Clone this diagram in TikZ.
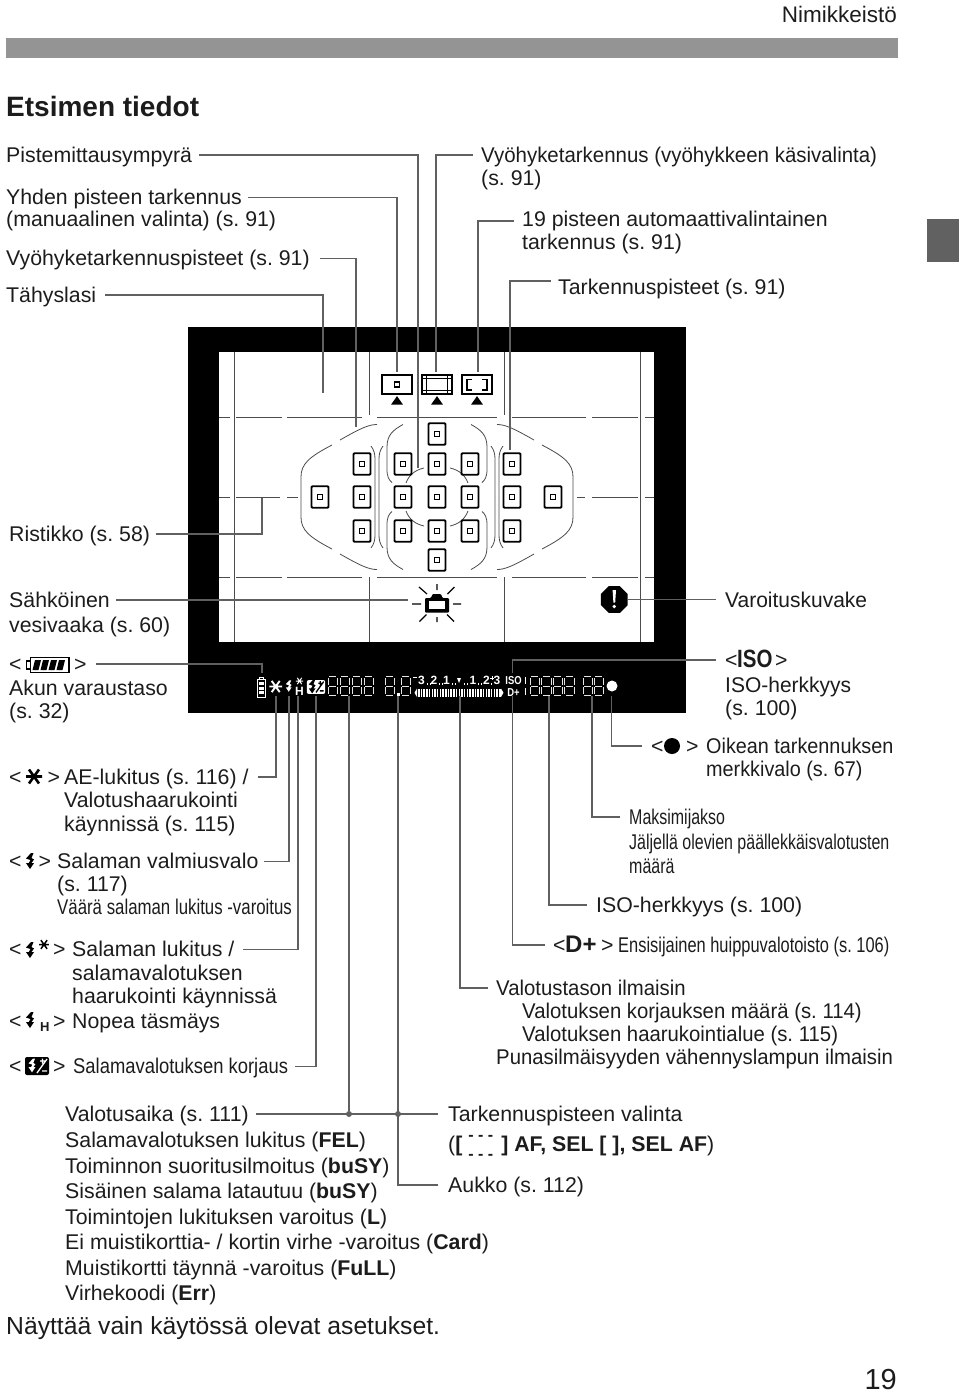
\documentclass[tikz,border=0pt]{standalone}
\usepackage{fontspec}
\setmainfont{Liberation Sans}
\newfontfamily\narrow[FakeStretch=.82]{Liberation Sans}
\usetikzlibrary{positioning,calc,shapes.geometric}
\frenchspacing

\definecolor{leadgray}{HTML}{606060}
\definecolor{inkblack}{HTML}{1C1C1C}

\tikzset{
  bolt/.pic={
    \fill (1,-8) -- (3.5,-8) -- (1.5,-3) -- (4,-1.5) -- (1.5,2) -- (4,2) -- (0,8)
      -- (-4,2) -- (-1.2,2) -- (.5,-1) -- (-4,-2.5) -- cycle;
  },
  aestar/.pic={
    \draw (-8,0) -- (8,0) (-5,-7) -- (5,7) (-5,7) -- (5,-7);
  },
  lcddigit/.pic={
    \draw[white!90!black,line width=1pt] (1.5,0) -- (8.5,0) (0,1.5) -- (0,8.5) (10,1.5) -- (10,8.5)
      (1.5,10) -- (8.5,10) (0,11.5) -- (0,18.5) (10,11.5) -- (10,18.5) (1.5,20) -- (8.5,20);
  },
  pics/febox/.style 2 args={code={
    \fill[#1,rounded corners=2pt] (-12,-9) rectangle (12,9);
    \pic[color=#2,scale=.85] at (-5,-.5) {bolt};
    \draw[#2,line width=1.3pt] (0,7) -- (10,-7) (3,-5) -- (8,-5) (5.5,-7.5) -- (5.5,-2.5) (5,5) -- (10,5);
  }},
}
\newcommand{\afbrackets}{\textbf{[}\hspace{6pt}\rlap{\raisebox{11pt}{\bfseries\fontsize{16}{16}\selectfont- - -}}\raisebox{-8pt}{\bfseries\fontsize{16}{16}\selectfont- - -}\hspace{8pt}\textbf{]}}

\begin{document}
\begin{tikzpicture}[
  x=1pt,y=-1pt,
  txt/.style={
    anchor=west,
    inner sep=0pt,
    text height=17pt,
    text depth=3pt,
    text=inkblack,
    font=\fontsize{21.3}{23}\selectfont,
  },
  slim/.style={
    txt,
    font={\fontspec{Liberation Sans}[FakeStretch=#1]\fontsize{21.3}{23}\selectfont},
  },
  lead/.style={
    draw=leadgray,
    line width=1.8pt,
    line join=miter,
  },
  gridline/.style={
    draw=black!70,
    line width=.9pt,
  },
  afbox/.style={
    draw=black,
    line width=1.9pt,
    rounded corners=1pt,
    minimum width=17pt,
    minimum height=21.5pt,
    inner sep=0pt,
  },
  afcore/.style={
    draw=black,
    line width=1.6pt,
    minimum size=5pt,
    inner sep=0pt,
  },
  lcdtext/.style={
    inner sep=0pt,
    text=white,
    font=\narrow\bfseries\fontsize{11.5}{12}\selectfont,
  },
  leaddot/.style={
    circle,
    fill=leadgray,
    inner sep=0pt,
    minimum size=6pt,
  },
  modeicon/.style={
    draw=black,
    line width=1.8pt,
    minimum width=30pt,
    minimum height=19pt,
    inner sep=0pt,
  },
  ]
  \useasboundingbox (0,0) rectangle (960,1393);

  % page furniture
  \fill[black!42] (6,38) rectangle (898,58);
  \fill[black!62] (927,219) rectangle (959,262);
  \node[txt,anchor=east,font=\fontsize{22.5}{24}\selectfont] (section) at (897,15) {Nimikkeistö};
  \node[txt,font=\bfseries\fontsize{28}{30}\selectfont] (title) at (6,109) {Etsimen tiedot};
  \node[txt,font=\fontsize{24.7}{26}\selectfont] (note) at (6,1327) {Näyttää vain käytössä olevat asetukset.};
  \node[txt,anchor=east,font=\fontsize{29}{30}\selectfont] (pageno) at (897,1382) {19};

  % viewfinder frame
  \fill[black] (187.5,327) rectangle (686,713);
  \fill[white] (219,352) rectangle (654,642);

  % grid of the screen
  \foreach \gx in {234,640}
    \draw[gridline] (\gx,352) -- (\gx,642);
  \foreach \gx in {369,504}
    \draw[gridline] (\gx,352) -- (\gx,415) (\gx,577) -- (\gx,642);
  \foreach \gy in {417,577}
    \draw[gridline] (219,\gy) -- (230,\gy) (236,\gy) -- (282,\gy) (287,\gy) -- (362,\gy)
      (377,\gy) -- (497,\gy) (512,\gy) -- (586,\gy) (592,\gy) -- (638,\gy) (645,\gy) -- (654,\gy);
  \draw[gridline] (219,497) -- (230,497) (236,497) -- (280,497) (287,497) -- (298,497)
    (577,497) -- (585,497) (592,497) -- (638,497) (645,497) -- (654,497);

  % zone marks, one quarter mirrored
  \foreach \sx in {1,-1}
    \foreach \sy in {1,-1} {
      \begin{scope}[shift={(437,497)},xscale=\sx,yscale=\sy]
        \draw[gridline,line width=.8pt]
          (-60,-72.5) .. controls (-68,-72.5) and (-76,-69) .. (-97,-57)
          (-105,-52) .. controls (-128,-40) and (-136,-33) .. (-136,-20) -- (-136,0)
          (-34,-72.5) .. controls (-44,-67) and (-50,-62) .. (-50,-50) -- (-50,-28)
            .. controls (-50,-20) and (-48,-17) .. (-45,-14.5)
          (-66,-51) .. controls (-63,-47) and (-62,-43) .. (-62,-38) -- (-62,0)
          (-54,-51) .. controls (-57,-47) and (-58,-43) .. (-58,-38) -- (-58,0)
          (-31,-14) .. controls (-28,-22) and (-22,-27) .. (-13,-29);
      \end{scope}
    }

  % AF points
  \foreach \px/\py [count=\n] in {
    437/434,
    362/464,403/464,437/464,470/464,512/464,
    320/497,362/497,403/497,437/497,470/497,512/497,553/497,
    362/531,403/531,437/531,470/531,512/531,
    437/560} {
    \node[afbox] (af\n) at (\px,\py) {};
    \node[afcore] (afc\n) at (af\n) {};
  }

  % AF mode icons
  \node[modeicon] (spot) at (397,384.5) {};
  \node[afcore] (spot-c) at (spot) {};
  \node[modeicon] (film) at (437,384.5) {};
  \draw[line width=1pt] (film.north west) ++(5,0) -- ++(0,19) (film.north east) ++(-5,0) -- ++(0,19)
    (film.north west) ++(0,4) -- ++(30,0) (film.south west) ++(0,-4) -- ++(30,0);
  \node[modeicon] (zone) at (477,384.5) {};
  \draw[line width=1.5pt] (472,379.5) -- (467,379.5) -- (467,390) -- (472,390)
    (482,379.5) -- (487,379.5) -- (487,390) -- (482,390);
  \foreach \tx/\tn in {397/spot,437/film,477/zone}
    \node[fill=black,isosceles triangle,isosceles triangle apex angle=70,shape border rotate=90,
      inner sep=0pt,minimum height=8.5pt,minimum width=11pt] (tri-\tn) at (\tx,401.5) {};

  % electronic level camera
  \draw[line width=1.2pt] (437,584) -- (437,590) (437,617) -- (437,622)
    (412,604) -- (421,604) (453,604) -- (461,604)
    (419,587) -- (427,594) (454.5,587) -- (447.5,594)
    (419.5,621.5) -- (426.5,614.5) (447,614.5) -- (454,621.5);
  \fill[rounded corners=1pt] (425,598) -- (431,598) -- (432.5,594) -- (441,594) -- (442.5,598)
    -- (449,598) -- (449,612.5) -- (425,612.5) -- cycle;
  \fill[white] (429,601) rectangle (445,609);
  \coordinate (level-c) at (408,600);

  % warning icon
  \node[regular polygon,regular polygon sides=8,fill=black,inner sep=0pt,minimum size=29pt] (warn) at (614.3,599.5) {};
  \fill[white] (612.6,590) -- (616,590) -- (615.2,602.5) -- (613.4,602.5) -- cycle;
  \fill[white] (614.3,606.5) circle (1.9pt);

  % LCD panel
  \draw[white,line width=.9pt] (257.5,679) rectangle (265,697) (259.5,679) -- (259.5,677) -- (263,677) -- (263,679);
  \foreach \by in {682,686.5,691}
    \fill[white] (259,\by) rectangle (263.5,\by+3);
  \pic[color=white,line width=1.9pt,scale=.8] at (275.7,686.5) {aestar};
  \pic[color=white,scale=.72] at (288.7,686) {bolt};
  \pic[color=white,line width=1pt,scale=.45] at (299.5,681) {aestar};
  \node[lcdtext,font=\bfseries\fontsize{12}{12}\selectfont] (lcd-h) at (299.5,691.5) {H};
  \pic[scale=.77] at (316,687) {febox={white}{black}};
  \foreach \dx in {328,340,352,364,385,401,530,541.5,553,564.5,583,594}
    \pic[scale=.95] at (\dx,676.5) {lcddigit};
  \fill[white] (397,693) rectangle (399.5,695.5);
  \draw[white,line width=.8pt] (525,677) -- (525,684) (525,688) -- (525,695);
  \foreach \sx/\sl [count=\n] in {421.5/3,434/2,446.5/1,473/1,486.5/2,497/3}
    \node[lcdtext,font=\bfseries\fontsize{12}{12}\selectfont] (scale\n) at (\sx,680.5) {\sl};
  \draw[white,line width=.8pt] (413,677) -- (416.5,677) (490,678) -- (494,678) (492,676) -- (492,680);
  \fill[white] (457,678) -- (461,678) -- (459,683) -- cycle;
  \foreach \sx in {426.5,429.5,439,442,451.5,454.5,463.5,466.5,477.5,480.5,491}
    \fill[white] (\sx,682.5) rectangle (\sx+1.4,685);
  \foreach \sx in {418,420.7,...,500}
    \fill[white] (\sx,688.5) rectangle (\sx+1.5,697);
  \fill[white] (417,688.5) -- (417,697) -- (414.5,692.75) -- cycle;
  \fill[white] (501,688.5) -- (501,697) -- (503.5,692.75) -- cycle;
  \node[lcdtext] (lcd-iso) at (513.5,681) {ISO};
  \node[lcdtext] (lcd-dplus) at (513.5,692.5) {D+};
  \node[circle,fill=white,inner sep=0pt,minimum size=11pt] (lcd-dot) at (612,686) {};

  % labels, upper left
  \node[txt] (circle) at (6,155) {Pistemittausympyrä};
  \node[txt] (single) at (6,197.5) {Yhden pisteen tarkennus};
  \node[txt] (single2) at (6,219.5) {(manuaalinen valinta) (s. 91)};
  \node[txt] (zonepts) at (6,258.5) {Vyöhyketarkennuspisteet (s. 91)};
  \node[txt] (screen) at (6,295) {Tähyslasi};
  % labels, upper right
  \node[slim=.96] (zonesel) at (481,155) {Vyöhyketarkennus (vyöhykkeen käsivalinta)};
  \node[txt] (zonesel2) at (481,178) {(s. 91)};
  \node[txt] (auto) at (522,219.5) {19 pisteen automaattivalintainen};
  \node[txt] (auto2) at (522,242) {tarkennus (s. 91)};
  \node[txt] (afpts) at (558,287) {Tarkennuspisteet (s. 91)};
  % labels, left of the frame
  \node[txt] (ruled) at (9,534) {Ristikko (s. 58)};
  \node[txt] (level) at (9,600) {Sähköinen};
  \node[txt] (level2) at (9,625) {vesivaaka (s. 60)};
  \node[txt] (bat-l) at (9,664) {<};
  \draw[line width=1.6pt] (30.5,657.5) rectangle (69,672.5) (30.5,661) -- (26.5,661) -- (26.5,669) -- (30.5,669);
  \foreach \bx in {35,43,51,59}
    \fill (\bx,660) -- (\bx+6,660) -- (\bx+3.5,670) -- (\bx-2.5,670) -- cycle;
  \node[txt] (bat-r) at (74,664) {>};
  \node[txt] (bat) at (9,688) {Akun varaustaso};
  \node[txt] (bat2) at (9,711) {(s. 32)};
  % labels, lower left
  \node[txt] (ae-l) at (9,777) {<};
  \pic[color=black,line width=2.6pt,scale=1] at (34,776.5) {aestar};
  \node[txt] (ae-r) at (47.5,777) {>};
  \node[txt] (ae) at (64,777) {AE-lukitus (s. 116) /};
  \node[txt] (ae2) at (64,800.5) {Valotushaarukointi};
  \node[txt] (ae3) at (64,824) {käynnissä (s. 115)};
  \node[txt] (ready-l) at (9,861.5) {<};
  \pic[color=black] at (30,861) {bolt};
  \node[txt] (ready-r) at (38.5,861.5) {>};
  \node[txt] (ready) at (57,861.5) {Salaman valmiusvalo};
  \node[txt] (ready2) at (57,884.5) {(s. 117)};
  \node[slim=.79] (ready3) at (57,907.5) {Väärä salaman lukitus -varoitus};
  \node[txt] (fel-l) at (9,949.5) {<};
  \pic[color=black] at (30,950) {bolt};
  \pic[color=black,line width=1.5pt,scale=.62] at (44,944.5) {aestar};
  \node[txt] (fel-r) at (53,949.5) {>};
  \node[txt] (fel) at (72,949.5) {Salaman lukitus /};
  \node[txt] (fel2) at (72,973) {salamavalotuksen};
  \node[txt] (fel3) at (72,996) {haarukointi käynnissä};
  \node[txt] (hss-l) at (9,1021) {<};
  \pic[color=black] at (30,1020) {bolt};
  \node[txt,font=\bfseries\fontsize{13}{14}\selectfont] (hss-h) at (40,1024) {H};
  \node[txt] (hss-r) at (53,1021) {>};
  \node[txt] (hss) at (72,1021) {Nopea täsmäys};
  \node[txt] (fec-l) at (9,1066.5) {<};
  \pic[scale=1] at (37,1066) {febox={black}{white}};
  \node[txt] (fec-r) at (53,1066.5) {>};
  \node[slim=.864] (fec) at (73,1066.5) {Salamavalotuksen korjaus};
  % labels, right of the frame
  \node[slim=.985] (warning) at (725,600) {Varoituskuvake};
  \node[txt] (iso-l) at (725,660) {<};
  \node[txt,font=\narrow\bfseries\fontsize{25}{25}\selectfont] (iso-m) at (737,660) {ISO};
  \node[txt] (iso-r) at (775,660) {>};
  \node[slim=.985] (iso) at (725,685) {ISO-herkkyys};
  \node[txt] (iso2) at (725,708) {(s. 100)};
  % labels, lower right
  \node[txt] (focus-l) at (651,746) {<};
  \node[circle,fill=black,inner sep=0pt,minimum size=16pt] (focus-c) at (672,746) {};
  \node[txt] (focus-r) at (686,746) {>};
  \node[slim=.93] (focus) at (706,746) {Oikean tarkennuksen};
  \node[slim=.93] (focus2) at (706,769) {merkkivalo (s. 67)};
  \node[slim=.75] (burst) at (629,817) {Maksimijakso};
  \node[slim=.75] (burst2) at (629,842) {Jäljellä olevien päällekkäisvalotusten};
  \node[slim=.75] (burst3) at (629,866) {määrä};
  \node[txt] (isonum) at (596,905) {ISO-herkkyys (s. 100)};
  \node[txt] (dplus-l) at (553,945) {<};
  \node[txt,font=\bfseries\fontsize{24}{25}\selectfont] (dplus-m) at (565,945) {D+};
  \node[txt] (dplus-r) at (601,945) {>};
  \node[slim=.771] (dplus) at (618,945) {Ensisijainen huippuvalotoisto (s. 106)};
  \node[slim=.955] (meter) at (496,988) {Valotustason ilmaisin};
  \node[slim=.955] (meter2) at (522,1011) {Valotuksen korjauksen määrä (s. 114)};
  \node[slim=.955] (meter3) at (522,1034) {Valotuksen haarukointialue (s. 115)};
  \node[slim=.955] (meter4) at (496,1057) {Punasilmäisyyden vähennyslampun ilmaisin};
  % labels, bottom
  \node[txt] (shutter) at (65,1114) {Valotusaika (s. 111)};
  \node[txt] (shutter2) at (65,1140) {Salamavalotuksen lukitus (\textbf{FEL})};
  \node[txt] (shutter3) at (65,1166) {Toiminnon suoritusilmoitus (\textbf{buSY})};
  \node[txt] (shutter4) at (65,1191) {Sisäinen salama latautuu (\textbf{buSY})};
  \node[txt] (shutter5) at (65,1217) {Toimintojen lukituksen varoitus (\textbf{L})};
  \node[txt] (shutter6) at (65,1242) {Ei muistikorttia- / kortin virhe -varoitus (\textbf{Card})};
  \node[txt] (shutter7) at (65,1268) {Muistikortti täynnä -varoitus (\textbf{FuLL})};
  \node[txt] (shutter8) at (65,1293) {Virhekoodi (\textbf{Err})};
  \node[txt] (afsel) at (448,1114) {Tarkennuspisteen valinta};
  \node[txt] (afsel2) at (448,1144) {(\afbrackets\textbf{ AF, SEL [ ], SEL AF})};
  \node[txt] (aperture) at (448,1185) {Aukko (s. 112)};

  % leader ends
  \coordinate (circle-e) at (418,468);
  \coordinate (single-e) at (397,372);
  \coordinate (zonepts-e) at (356,427);
  \coordinate (screen-e) at (323,393);
  \coordinate (zonesel-e) at (436,372);
  \coordinate (auto-e) at (478,372);
  \coordinate (afpts-e) at (510,450);
  \coordinate (ruled-e) at (262,498);
  \coordinate (bat-e) at (262,673);
  \coordinate (iso-e) at (512.5,673);
  \coordinate (ae-e) at (276,696);
  \coordinate (ready-e) at (288.7,696);
  \coordinate (fel-e) at (298,696);
  \coordinate (fec-e) at (315.7,696);
  \coordinate (shutter-e) at (349,696);
  \coordinate (aperture-e) at (398,696);
  \coordinate (meter-e) at (460,696);
  \coordinate (dplus-e) at (512.5,696);
  \coordinate (isonum-e) at (549,696);
  \coordinate (burst-e) at (592,696);
  \coordinate (focus-e) at (611.5,696);
  \node[leaddot] (join1) at (349,1114) {};
  \node[leaddot] (join2) at (398,1114) {};

  \path[lead] ([xshift=7pt]circle.east) -| (circle-e);
  \path[lead] ([xshift=6pt]single.east) -| (single-e);
  \path[lead] ([xshift=10pt]zonepts.east) -| (zonepts-e);
  \path[lead] ([xshift=9pt]screen.east) -| (screen-e);
  \path[lead] ([xshift=-8pt]zonesel.west) -| (zonesel-e);
  \path[lead] ([xshift=-8pt,yshift=-1.5pt]auto.west) -| (auto-e);
  \path[lead] ([xshift=-7pt,yshift=6pt]afpts.west) -| (afpts-e);
  \path[lead] ([xshift=6pt]ruled.east) -| (ruled-e);
  \path[lead] ([xshift=6pt]level.east) -- (level-c);
  \path[lead] (warn.east) -- ([xshift=-9pt]warn.east -| warning.west);
  \path[lead] ([xshift=9pt]bat-r.east) -| (bat-e);
  \path[lead] ([xshift=-9pt]iso-l.west) -| (iso-e);
  \path[lead] (ae-e) |- ([xshift=9pt]ae.east);
  \path[lead] (ready-e) |- ([xshift=5pt]ready.east);
  \path[lead] (fel-e) |- ([xshift=8pt]fel.east);
  \path[lead] (fec-e) |- ([xshift=7pt]fec.east);
  \path[lead] (shutter-e) -- (join1);
  \path[lead] (aperture-e) |- ([xshift=-10pt]aperture.west);
  \path[lead] ([xshift=7pt]shutter.east) -- ([xshift=-10pt]afsel.west);
  \path[lead] (meter-e) |- ([xshift=-8pt]meter.west);
  \path[lead] (dplus-e) |- ([xshift=-8pt]dplus-l.west);
  \path[lead] (isonum-e) |- ([xshift=-9pt]isonum.west);
  \path[lead] (burst-e) |- ([xshift=-9pt]burst.west);
  \path[lead] (focus-e) |- ([xshift=-9pt]focus-l.west);
\end{tikzpicture}
\end{document}
